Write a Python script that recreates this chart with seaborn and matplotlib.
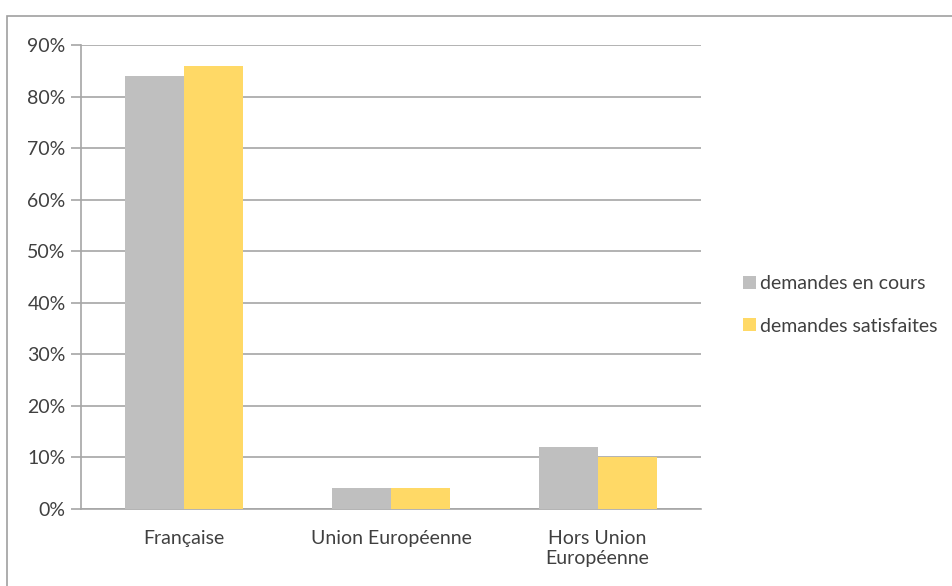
import matplotlib
matplotlib.use("Agg")
import matplotlib.pyplot as plt
import seaborn as sns
import pandas as pd
from matplotlib.patches import Rectangle, Patch
from matplotlib.ticker import PercentFormatter

categories = ["Française", "Union Européenne", "Hors Union\nEuropéenne"]
series_names = ["demandes en cours", "demandes satisfaites"]
en_cours = [84, 4, 12]
satisfaites = [86, 4, 10]
yticks = [0, 10, 20, 30, 40, 50, 60, 70, 80, 90]

df = pd.DataFrame({
    "cat": categories * 2,
    "serie": [series_names[0]] * 3 + [series_names[1]] * 3,
    "val": en_cours + satisfaites,
})

sns.set_theme(style="white")
plt.rcParams['font.family'] = ['Lato', 'DejaVu Sans']

fig = plt.figure(figsize=(9.53, 5.86), dpi=100)
ax = fig.add_axes([81/953, 1 - 509/586, (701-81)/953, (509-45)/586])

colors = ["#BFBFBF", "#FFD966"]
sns.barplot(data=df, x="cat", y="val", hue="serie", palette=colors, ax=ax,
            width=0.57, saturation=1, legend=False, zorder=3, linewidth=0,
            edgecolor="none")

ax.set_ylim(0, 90)
ax.set_yticks(yticks)
ax.yaxis.set_major_formatter(PercentFormatter(decimals=0))
ax.set_xlabel("")
ax.set_ylabel("")
ax.grid(axis="y", color="#A6A6A6", linewidth=1.2, zorder=0)
for s in ["top", "right"]:
    ax.spines[s].set_visible(False)
for s in ["left", "bottom"]:
    ax.spines[s].set_color("#A6A6A6")
    ax.spines[s].set_linewidth(1.2)
ax.tick_params(axis="y", length=7, color="#A6A6A6", width=1.2, labelsize=14,
               labelcolor="#404040", pad=4, left=True)
ax.tick_params(axis="x", length=0, labelsize=14, labelcolor="#404040", pad=15)
for t in ax.get_xticklabels():
    t.set_linespacing(1.25)

handles = [Patch(facecolor=c, edgecolor="none") for c in colors]
fig.legend(handles, series_names, loc="center left",
           bbox_to_anchor=(726/953, 1 - 305/586), frameon=False,
           fontsize=14, handlelength=0.65, handleheight=0.65,
           handletextpad=0.2, labelspacing=1.3, labelcolor="#404040")

fig.patches.append(Rectangle((7/953, -0.01), 1.02, 1 - 16/586 + 0.01,
                             transform=fig.transFigure, fill=False,
                             edgecolor="#A0A0A0", linewidth=1.2))

fig.savefig("out.png", dpi=100, facecolor="white")
